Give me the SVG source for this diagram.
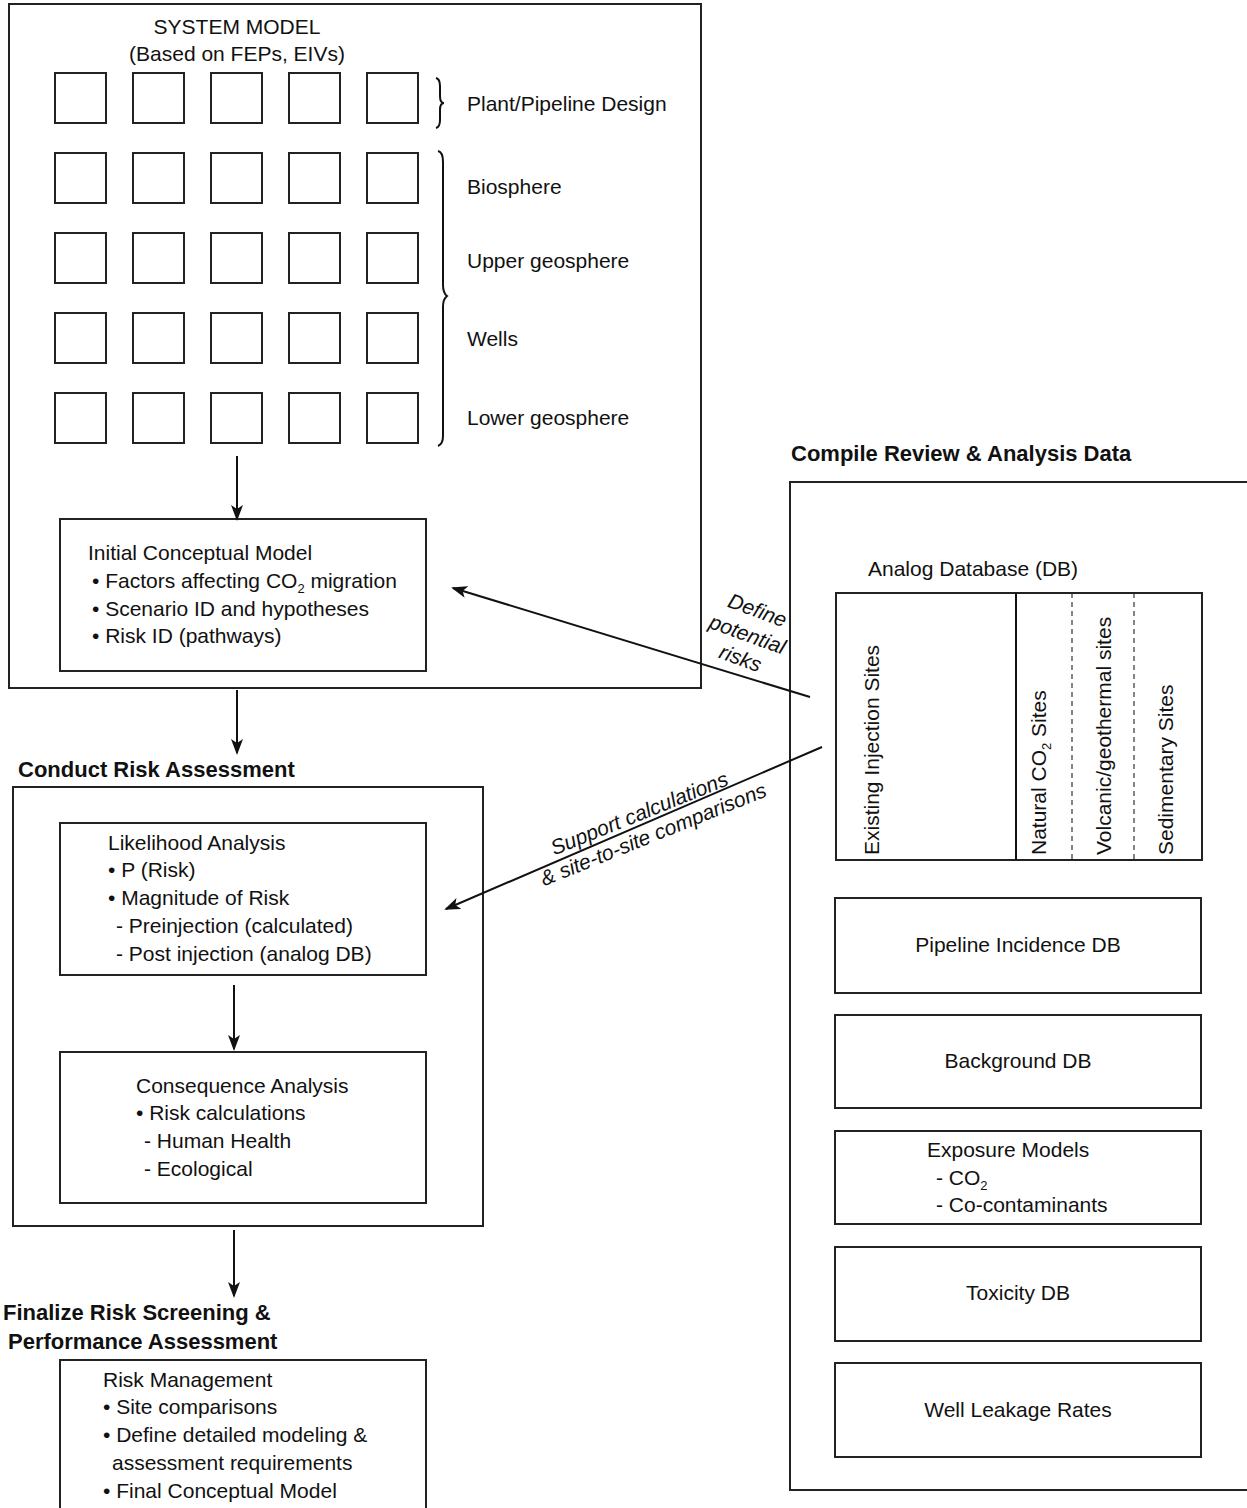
<svg xmlns="http://www.w3.org/2000/svg" width="1247" height="1508" viewBox="0 0 1247 1508">
<style>
text{font-family:"Liberation Sans",Arial,sans-serif;font-size:21px;fill:#111}
.b{font-weight:bold;font-size:22px}
.i{font-style:italic}
.m{text-anchor:middle}
.box{fill:#fff;stroke:#222;stroke-width:2}
.g{fill:none;stroke:#222;stroke-width:2}
.ln{fill:none;stroke:#111;stroke-width:2}
</style>
<defs>
<marker id="ah" markerWidth="16" markerHeight="14" refX="14" refY="6" orient="auto" markerUnits="userSpaceOnUse" viewBox="0 0 16 12">
<path d="M0,0 L16,6 L0,12 L4,6 Z" fill="#111"/>
</marker>
</defs>
<rect width="1247" height="1508" fill="#fff"/>

<g id="system-model">
<rect class="box" x="9" y="4" width="692" height="684"/>
<text class="m" x="237" y="34">SYSTEM MODEL</text>
<text class="m" x="237" y="61">(Based on FEPs, EIVs)</text>
<g class="grid">
<rect class="g" x="55" y="73" width="51" height="50"/><rect class="g" x="133" y="73" width="51" height="50"/><rect class="g" x="211" y="73" width="51" height="50"/><rect class="g" x="289" y="73" width="51" height="50"/><rect class="g" x="367" y="73" width="51" height="50"/>
<rect class="g" x="55" y="153" width="51" height="50"/><rect class="g" x="133" y="153" width="51" height="50"/><rect class="g" x="211" y="153" width="51" height="50"/><rect class="g" x="289" y="153" width="51" height="50"/><rect class="g" x="367" y="153" width="51" height="50"/>
<rect class="g" x="55" y="233" width="51" height="50"/><rect class="g" x="133" y="233" width="51" height="50"/><rect class="g" x="211" y="233" width="51" height="50"/><rect class="g" x="289" y="233" width="51" height="50"/><rect class="g" x="367" y="233" width="51" height="50"/>
<rect class="g" x="55" y="313" width="51" height="50"/><rect class="g" x="133" y="313" width="51" height="50"/><rect class="g" x="211" y="313" width="51" height="50"/><rect class="g" x="289" y="313" width="51" height="50"/><rect class="g" x="367" y="313" width="51" height="50"/>
<rect class="g" x="55" y="393" width="51" height="50"/><rect class="g" x="133" y="393" width="51" height="50"/><rect class="g" x="211" y="393" width="51" height="50"/><rect class="g" x="289" y="393" width="51" height="50"/><rect class="g" x="367" y="393" width="51" height="50"/>
</g>
<path class="ln" d="M436,78 Q440,79 440,86 L440,96 Q440,103 444,103 Q440,103 440,110 L440,120 Q440,127 436,128"/>
<path class="ln" d="M438,151 Q443,152 443,162 L443,285 Q443,293 447,296 Q443,299 443,307 L443,436 Q443,444 438,446"/>
<text x="467" y="111">Plant/Pipeline Design</text>
<text x="467" y="194">Biosphere</text>
<text x="467" y="268">Upper geosphere</text>
<text x="467" y="346">Wells</text>
<text x="467" y="425">Lower geosphere</text>
</g>

<g id="initial-conceptual-model">
<rect class="box" x="60" y="519" width="366" height="152"/>
<text x="88" y="560">Initial Conceptual Model</text>
<text x="92" y="588">• Factors affecting CO<tspan font-size="13" dy="5">2</tspan><tspan dy="-5"> migration</tspan></text>
<text x="92" y="616">• Scenario ID and hypotheses</text>
<text x="92" y="643">• Risk ID (pathways)</text>
</g>

<g id="conduct-risk-assessment">
<text class="b" x="18" y="777">Conduct Risk Assessment</text>
<rect class="box" x="13" y="787" width="470" height="439" stroke-width="1.5"/>
</g>

<g id="likelihood-analysis">
<rect class="box" x="60" y="823" width="366" height="152"/>
<text x="108" y="850">Likelihood Analysis</text>
<text x="108" y="877">• P (Risk)</text>
<text x="108" y="905">• Magnitude of Risk</text>
<text x="116" y="933">- Preinjection (calculated)</text>
<text x="116" y="961">- Post injection (analog DB)</text>
</g>

<g id="consequence-analysis">
<rect class="box" x="60" y="1052" width="366" height="151"/>
<text x="136" y="1093">Consequence Analysis</text>
<text x="136" y="1120">• Risk calculations</text>
<text x="144" y="1148">- Human Health</text>
<text x="144" y="1176">- Ecological</text>
</g>

<g id="finalize">
<text class="b" x="3" y="1320">Finalize Risk Screening &amp;</text>
<text class="b" x="8" y="1349">Performance Assessment</text>
<rect class="box" x="60" y="1360" width="366" height="160"/>
<text x="103" y="1387">Risk Management</text>
<text x="103" y="1414">• Site comparisons</text>
<text x="103" y="1442">• Define detailed modeling &amp;</text>
<text x="112" y="1470">assessment requirements</text>
<text x="103" y="1498">• Final Conceptual Model</text>
</g>

<g id="compile-data">
<text class="b" x="791" y="461">Compile Review &amp; Analysis Data</text>
<rect class="box" x="790" y="482" width="480" height="1008"/>
</g>

<g id="analog-db">
<text x="868" y="576">Analog Database (DB)</text>
<rect class="box" x="836" y="593" width="366" height="267"/>
<line class="ln" x1="1016" y1="593" x2="1016" y2="860"/>
<line x1="1072" y1="593" x2="1072" y2="860" stroke="#333" stroke-width="1.2" stroke-dasharray="5,4"/>
<line x1="1134" y1="593" x2="1134" y2="860" stroke="#333" stroke-width="1.2" stroke-dasharray="5,4"/>
<text transform="translate(879,855) rotate(-90)">Existing Injection Sites</text>
<text transform="translate(1046,855) rotate(-90)">Natural CO<tspan font-size="13" dy="5">2</tspan><tspan dy="-5"> Sites</tspan></text>
<text transform="translate(1111,855) rotate(-90)">Volcanic/geothermal sites</text>
<text transform="translate(1173,855) rotate(-90)">Sedimentary Sites</text>
</g>

<g id="pipeline-db">
<rect class="box" x="835" y="898" width="366" height="95"/>
<text class="m" x="1018" y="952">Pipeline Incidence DB</text>
</g>
<g id="background-db">
<rect class="box" x="835" y="1015" width="366" height="93"/>
<text class="m" x="1018" y="1068">Background DB</text>
</g>
<g id="exposure-models">
<rect class="box" x="835" y="1131" width="366" height="93"/>
<text x="927" y="1157">Exposure Models</text>
<text x="936" y="1185">- CO<tspan font-size="13" dy="5">2</tspan></text>
<text x="936" y="1212">- Co-contaminants</text>
</g>
<g id="toxicity-db">
<rect class="box" x="835" y="1247" width="366" height="94"/>
<text class="m" x="1018" y="1300">Toxicity DB</text>
</g>
<g id="well-leakage">
<rect class="box" x="835" y="1363" width="366" height="94"/>
<text class="m" x="1018" y="1417">Well Leakage Rates</text>
</g>

<g id="connectors">
<line class="ln" x1="237" y1="456" x2="237" y2="519" marker-end="url(#ah)"/>
<line class="ln" x1="237" y1="690" x2="237" y2="753" marker-end="url(#ah)"/>
<line class="ln" x1="234" y1="985" x2="234" y2="1049" marker-end="url(#ah)"/>
<line class="ln" x1="234" y1="1230" x2="234" y2="1296" marker-end="url(#ah)"/>
<line class="ln" x1="810" y1="697" x2="453" y2="588" marker-end="url(#ah)"/>
<line class="ln" x1="822" y1="747" x2="446" y2="909" marker-end="url(#ah)"/>
<text class="i m" transform="translate(755,617) rotate(20)">Define</text>
<text class="i m" transform="translate(745,641) rotate(20)">potential</text>
<text class="i m" transform="translate(738,665) rotate(20)">risks</text>
<text class="i m" transform="translate(642,820) rotate(-22)">Support calculations</text>
<text class="i m" transform="translate(656,841) rotate(-22)">&amp; site-to-site comparisons</text>
</g>
</svg>
